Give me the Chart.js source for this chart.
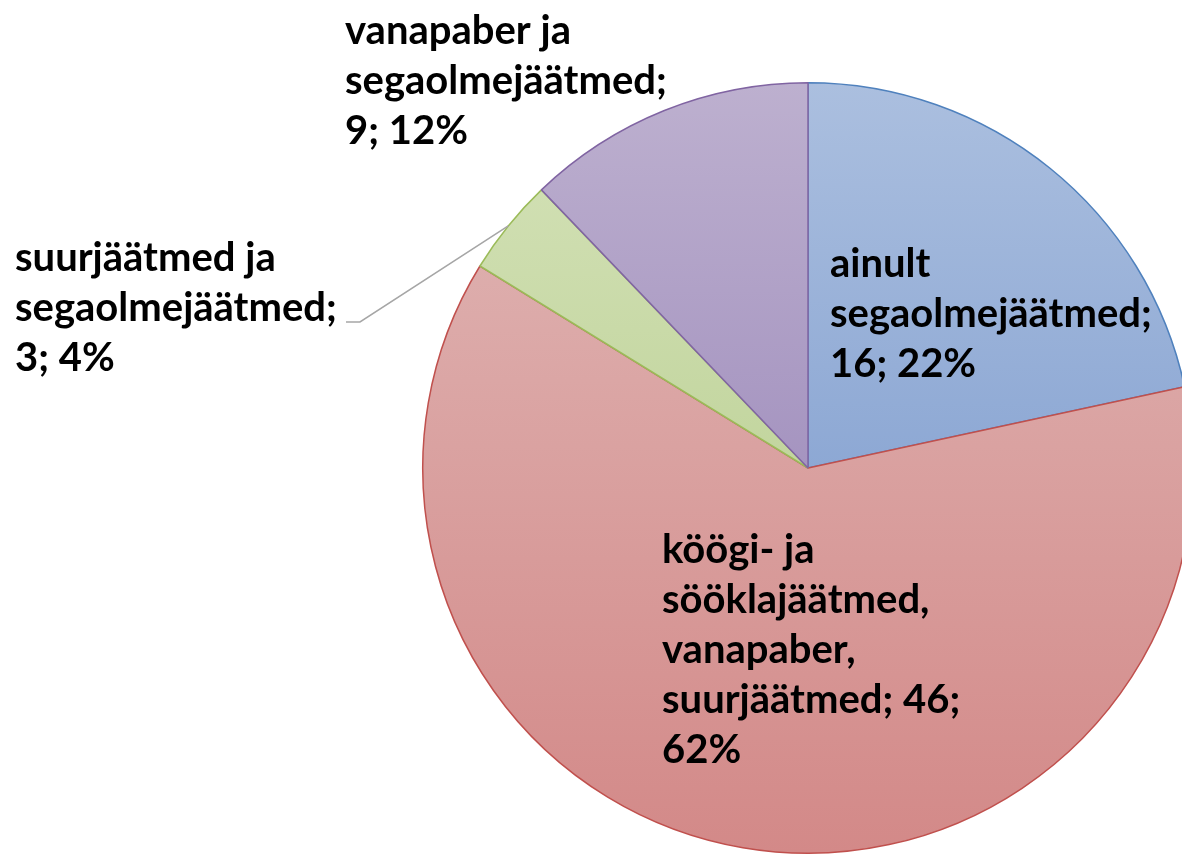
<!DOCTYPE html>
<html>
<head>
<meta charset="utf-8">
<script src="https://cdn.jsdelivr.net/npm/chart.js@4"></script>
<style>
  html, body { margin: 0; padding: 0; background: #fff; overflow: hidden; }
  #wrap { width: 1182px; height: 855px; overflow: hidden; position: relative; }
  canvas { position: absolute; left: 0; top: 0; }
</style>
</head>
<body>
<div id="wrap"><canvas id="pieChart" width="1616" height="855"></canvas></div>
<script>
// data
const categories = [
    ['ainult', 'segaolmejäätmed;'],
    ['köögi- ja', 'sööklajäätmed,', 'vanapaber,', 'suurjäätmed;'],
    ['suurjäätmed ja', 'segaolmejäätmed;'],
    ['vanapaber ja', 'segaolmejäätmed;']
];
const counts = [16, 46, 3, 9];
const percents = ['22%', '62%', '4%', '12%'];

const topColors = ['#abbfdf', '#ddadac', '#d0dfb2', '#bdb0cf'];
const bottomColors = ['#8da8d4', '#d38988', '#c2d59e', '#a594c0'];
const borderColors = ['#4f81bd', '#c0504d', '#9bbb59', '#8064a2'];

// label lines per slice (value/percent joined like Excel does)
const labelLines = [
    ['ainult', 'segaolmejäätmed;', counts[0] + '; ' + percents[0]],
    ['köögi- ja', 'sööklajäätmed,', 'vanapaber,', 'suurjäätmed; ' + counts[1] + ';', percents[1]],
    ['suurjäätmed ja', 'segaolmejäätmed;', counts[2] + '; ' + percents[2]],
    ['vanapaber ja', 'segaolmejäätmed;', counts[3] + '; ' + percents[3]]
];
// left x and first-line middle y
const labelAnchors = [[830, 264], [662, 550], [15, 258], [345, 31]];

const gradientPlugin = {
    id: 'sliceGradients',
    beforeDatasetsDraw(chart) {
        const ctx = chart.ctx;
        chart.getDatasetMeta(0).data.forEach((arc, i) => {
            const p = arc.getProps(['x', 'y', 'startAngle', 'endAngle', 'outerRadius']);
            let minY = p.y, maxY = p.y;
            for (let k = 0; k <= 60; k++) {
                const a = p.startAngle + (p.endAngle - p.startAngle) * k / 60;
                const yy = p.y + Math.sin(a) * p.outerRadius;
                minY = Math.min(minY, yy);
                maxY = Math.max(maxY, yy);
            }
            const g = ctx.createLinearGradient(0, minY, 0, maxY);
            g.addColorStop(0, topColors[i]);
            g.addColorStop(1, bottomColors[i]);
            arc.options.backgroundColor = g;
        });
    },
    afterDatasetsDraw(chart) {
        const ctx = chart.ctx;
        const meta = chart.getDatasetMeta(0);
        // leader line for the small green slice
        const arc = meta.data[2];
        const p = arc.getProps(['x', 'y', 'startAngle', 'endAngle', 'outerRadius']);
        const mid = (p.startAngle + p.endAngle) / 2;
        ctx.save();
        ctx.strokeStyle = '#a6a6a6';
        ctx.lineWidth = 1.5;
        ctx.beginPath();
        ctx.moveTo(p.x + Math.cos(mid) * p.outerRadius, p.y + Math.sin(mid) * p.outerRadius);
        ctx.lineTo(360, 322);
        ctx.lineTo(346, 322);
        ctx.stroke();

        ctx.fillStyle = '#000';
        ctx.font = 'bold 40px Lato';
        ctx.textBaseline = 'middle';
        ctx.textAlign = 'left';
        labelLines.forEach((lines, i) => {
            const [lx, ly] = labelAnchors[i];
            lines.forEach((t, j) => ctx.fillText(t, lx, ly + j * 50));
        });
        ctx.restore();
    }
};

new Chart(document.getElementById('pieChart'), {
    type: 'pie',
    data: {
        labels: categories,
        datasets: [{
            data: counts,
            backgroundColor: topColors,
            borderColor: borderColors,
            borderWidth: 1.5
        }]
    },
    options: {
        responsive: false,
        animation: false,
        layout: { padding: { top: 82, bottom: 1, left: 0, right: 0 } },
        plugins: {
            legend: { display: false },
            tooltip: { enabled: false }
        }
    },
    plugins: [gradientPlugin]
});
</script>
</body>
</html>
